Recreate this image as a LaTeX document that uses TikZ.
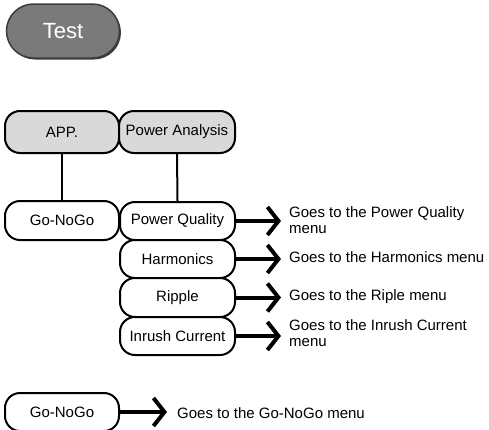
\documentclass[tikz,border=0pt]{standalone}
\usepackage{fontspec}
\setmainfont{Liberation Sans}
\usetikzlibrary{arrows.meta,shapes.misc}
\definecolor{testfill}{HTML}{7A7A7A}
\definecolor{testedge}{HTML}{3C3C3C}
\definecolor{topfill}{HTML}{D9D9D9}
\begin{document}
\begin{tikzpicture}[x=1pt,y=-1pt,
  every node/.style={font=\fontsize{15}{16.5}\selectfont},
  box/.style={draw=black, line width=2pt, rounded corners=15pt, rectangle, inner sep=0pt, minimum width=114pt, minimum height=38pt, fill=white},
  topbox/.style={box, fill=topfill, minimum height=42pt},
  pill/.style={rounded rectangle, inner sep=0pt, minimum width=113pt, minimum height=54pt},
  link/.style={line width=2pt},
  goarrow/.style={line width=4pt, -{Straight Barb[length=11pt,width=28pt]}},
  desc/.style={anchor=west, align=left, inner sep=0pt}]
\useasboundingbox (0,0) rectangle (489,429);
\begin{scope}
\clip (0,0) rectangle (489,429);
% Test button
\node[pill, fill=testedge] (testshadow) at (64.5,32.5) {};
\node[pill, draw=testedge, line width=1.5pt, fill=testfill, text=white, font=\fontsize{22}{24}\selectfont] (test) at (63,31) {Test};
% top boxes
\node[topbox] (app) at (62,132) {APP.};
\node[topbox, minimum width=116pt] (pa) at (177,132) {Power Analysis};
% lower boxes
\node[box, minimum height=39pt] (gng) at (62,220.5) {Go-NoGo};
\node[box, minimum width=115pt] (pq) at (177.5,221) {Power Quality};
\node[box, minimum width=115pt] (harm) at (177.5,259) {Harmonics};
\node[box, minimum width=115pt, minimum height=39pt] (rip) at (177.5,297.5) {Ripple};
\node[box, minimum width=115pt] (inr) at (177.5,336) {Inrush Current};
\node[box] (gng2) at (62,412) {Go-NoGo};
% links
\draw[link] (app.south) -- (gng.north);
\draw[link] (pa.south) -- (pq.north);
% arrow ends
\coordinate (pqa) at (281,221);
\coordinate (harma) at (281,259);
\coordinate (ripa) at (281,297.5);
\coordinate (inra) at (281,336);
\coordinate (gnga) at (167,412);
\draw[goarrow] (pq.east) -- (pqa);
\draw[goarrow] (harm.east) -- (harma);
\draw[goarrow] (rip.east) -- (ripa);
\draw[goarrow] (inr.east) -- (inra);
\draw[goarrow] (gng2.east) -- (gnga);
% descriptions
\node[desc] (pqd) at (289,220) {Goes to the Power Quality\\menu};
\node[desc] (harmd) at (289,257) {Goes to the Harmonics menu};
\node[desc] (ripd) at (289,297) {Goes to the Riple menu};
\node[desc] (inrd) at (289,333) {Goes to the Inrush Current\\menu};
\node[desc] (gngd) at (177,413) {Goes to the Go-NoGo menu};
\end{scope}
\end{tikzpicture}
\end{document}
